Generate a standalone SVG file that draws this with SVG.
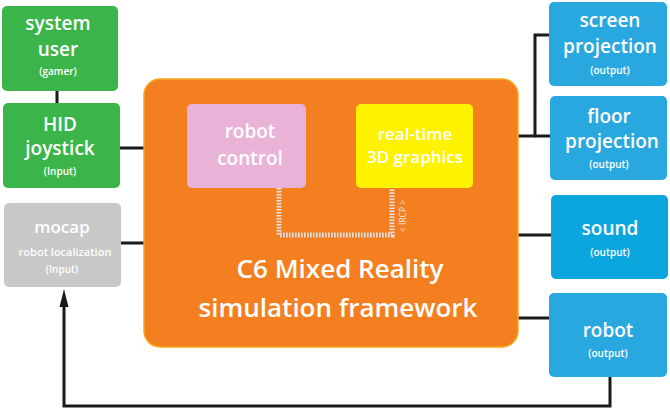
<svg xmlns="http://www.w3.org/2000/svg" width="670" height="408" viewBox="0 0 670 408">
<defs>
<style>
.t{font-family:"Open Sans","Noto Sans","DejaVu Sans",sans-serif;font-weight:600;fill:#fff;text-anchor:middle}
.b{font-size:19px}
.s{font-size:10px}
.green{fill:#3bb54a}
.blue{fill:#29a8e0}
.conn{stroke:#1a1a1a;stroke-width:3;fill:none}
</style>
</defs>
<rect width="670" height="408" fill="#fff"/>
<g id="connectors">
<line class="conn" x1="57" y1="90" x2="57" y2="104"/>
<line class="conn" x1="119" y1="148" x2="145" y2="148"/>
<line class="conn" x1="120" y1="243" x2="145" y2="243"/>
<polyline class="conn" points="517,136 535,136 535,35 550,35"/>
<line class="conn" x1="535" y1="136" x2="551" y2="136"/>
<line class="conn" x1="517" y1="235" x2="552" y2="235"/>
<line class="conn" x1="517" y1="318" x2="550" y2="318"/>
<polyline class="conn" points="610,377 610,406 64,406 64,306"/>
<path d="M64 289 L68.5 307 L59.5 307 Z" fill="#1a1a1a"/>
</g>
<g id="system-user">
<rect class="green" x="2" y="6" width="116" height="85" rx="5"/>
<text class="t b" x="58" y="30">system</text>
<text class="t b" x="58" y="56">user</text>
<text class="t s" x="58" y="75">(gamer)</text>
</g>
<g id="hid-joystick">
<rect class="green" x="3" y="103" width="117" height="85" rx="5"/>
<text class="t b" x="60" y="131">HID</text>
<text class="t b" x="60" y="155">joystick</text>
<text class="t s" x="60" y="175">(Input)</text>
</g>
<g id="mocap">
<rect x="4" y="203" width="117" height="84" rx="5" fill="#c8c8c8"/>
<text class="t" x="62" y="233" font-size="17">mocap</text>
<text class="t" x="65" y="256" font-size="11">robot localization</text>
<text class="t s" x="62" y="273">(Input)</text>
</g>
<g id="framework">
<rect x="144" y="79" width="374" height="268" rx="16" fill="#f47f20" stroke="#f9a61a" stroke-width="1.5"/>
<text class="t" x="340" y="278" font-size="26">C6 Mixed Reality</text>
<text class="t" x="338" y="317" font-size="26">simulation framework</text>
</g>
<g id="robot-control">
<rect x="187" y="104" width="119" height="84" rx="5" fill="#e8b3d6"/>
<text class="t b" x="250" y="138">robot</text>
<text class="t b" x="250" y="165">control</text>
</g>
<g id="graphics">
<rect x="356" y="104" width="117" height="84" rx="5" fill="#fff200"/>
<text class="t" x="415" y="140" font-size="17">real-time</text>
<text class="t" x="415" y="163" font-size="17">3D graphics</text>
</g>
<g id="ircp-link">
<polyline points="279,188 279,235 392,235 392,188" fill="none" stroke="#dfe5ee" stroke-width="5" stroke-dasharray="1.6 1.4"/>
<text x="406" y="216" font-family="'Open Sans',sans-serif" font-size="8.5" fill="#e6e6e6" text-anchor="middle" transform="rotate(-90 406 216)">&lt; IRCP &gt;</text>
</g>
<g id="screen-projection">
<rect class="blue" x="549" y="2" width="118" height="84" rx="5"/>
<text class="t b" x="610" y="27">screen</text>
<text class="t b" x="610" y="53">projection</text>
<text class="t s" x="610" y="74">(output)</text>
</g>
<g id="floor-projection">
<rect class="blue" x="550" y="96" width="117" height="84" rx="5"/>
<text class="t b" x="609" y="123">floor</text>
<text class="t b" x="612" y="148">projection</text>
<text class="t s" x="609" y="168">(output)</text>
</g>
<g id="sound">
<rect x="551" y="195" width="117" height="84" rx="5" fill="#0ca6df"/>
<text class="t b" x="610" y="235">sound</text>
<text class="t s" x="610" y="256">(output)</text>
</g>
<g id="robot">
<rect class="blue" x="549" y="293" width="118" height="84" rx="5"/>
<text class="t b" x="608" y="337">robot</text>
<text class="t s" x="608" y="357">(output)</text>
</g>
</svg>
